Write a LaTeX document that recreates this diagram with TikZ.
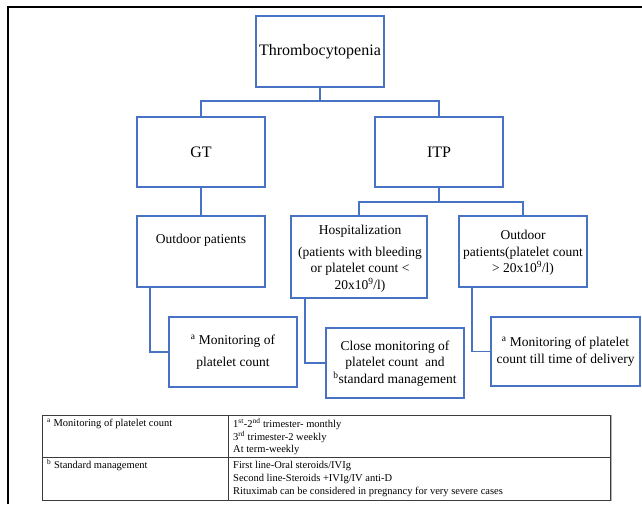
\documentclass[tikz,border=0pt]{standalone}
\usepackage{fontspec}
\setmainfont{Liberation Serif}
\definecolor{boxblue}{RGB}{72,114,196}
\definecolor{tabline}{RGB}{60,60,60}
\tikzset{
  box/.style={draw=boxblue, line width=1.3pt, rectangle, inner sep=0pt},
  conn/.style={draw=boxblue, line width=1.3pt},
  bigtxt/.style={font=\fontsize{16}{19}\selectfont, inner sep=0pt},
  midtxt/.style={font=\fontsize{13.5}{16.5}\selectfont, inner sep=0pt, align=center},
  smalltxt/.style={font=\fontsize{10.5}{13}\selectfont, inner sep=0pt, anchor=west},
  tabrule/.style={draw=tabline, line width=0.8pt}
}
\begin{document}
\begin{tikzpicture}[x=1pt,y=-1pt]
\useasboundingbox (0,0) rectangle (642,504);
% outer frame
\draw[line width=2pt] (8,504) -- (8,6.5) -- (642,6.5);

% boxes
\node[box, minimum width=128pt, minimum height=71pt] (top) at (320,51.5) {};
\node[box, minimum width=128pt, minimum height=70pt] (gt) at (201,152) {};
\node[box, minimum width=128pt, minimum height=70pt] (itp) at (439,152) {};
\node[box, minimum width=128pt, minimum height=71pt] (outgt) at (201,251.5) {};
\node[box, minimum width=136pt, minimum height=82pt] (hosp) at (359,257) {};
\node[box, minimum width=128pt, minimum height=71pt] (out2) at (523,251.5) {};
\node[box, minimum width=128pt, minimum height=70pt] (mon1) at (233,352) {};
\node[box, minimum width=138pt, minimum height=70pt] (close) at (395,363) {};
\node[box, minimum width=149pt, minimum height=69pt] (mon2) at (565.5,351.5) {};

% texts
\node[bigtxt] (ttop) at (320,52) {Thrombocytopenia};
\node[bigtxt] (tgt) at (201,152) {GT};
\node[bigtxt] (titp) at (439,152) {ITP};
\node[midtxt] (toutgt) at (201,240) {Outdoor patients};
\node[midtxt] (thosp1) at (360,231) {Hospitalization};
\node[midtxt] (thosp2) at (360,269.5) {(patients with bleeding\\or platelet count <\\20x10\textsuperscript{9}/l)};
\node[midtxt] (tout2) at (523,253) {Outdoor\\patients(platelet count\\> 20x10\textsuperscript{9}/l)};
\node[midtxt, font=\fontsize{13.5}{22}\selectfont] (tmon1) at (233,352) {\textsuperscript{a} Monitoring of\\platelet count};
\node[midtxt] (tclose) at (395,363.5) {Close monitoring of\\platelet count~ and\\\textsuperscript{b}standard management};
\node[midtxt, font=\fontsize{13.5}{17}\selectfont] (tmon2) at (565.5,351.5) {\textsuperscript{a} Monitoring of platelet\\count till time of delivery};

% connectors
\coordinate (j1) at (320,101);
\coordinate (j2) at (439,202);
\draw[conn] (top.south) -- (j1);
\draw[conn] (gt.north) |- (j1) -| (itp.north);
\draw[conn] (gt.south) -- (outgt.north);
\draw[conn] (itp.south) -- (j2);
\draw[conn] (hosp.north) |- (j2) -| (out2.north);
\draw[conn] ([xshift=-51pt]outgt.south) |- (mon1.west);
\draw[conn] ([xshift=-54pt]hosp.south) |- (close.west);
\draw[conn] ([xshift=-51pt]out2.south) |- (mon2.west);

% table
\draw[tabrule] (42,415) rectangle (610,500);
\draw[tabrule] (42,457) -- (610,457);
\draw[tabrule] (228,415) -- (228,500);
\draw[draw=gray!60, line width=1.5pt] (611.5,415) -- (611.5,500.5);
\node[smalltxt] (ta) at (47,424) {\textsuperscript{a} Monitoring of platelet count};
\node[smalltxt] (ta1) at (233,424) {1\textsuperscript{st}-2\textsuperscript{nd} trimester- monthly};
\node[smalltxt] (ta2) at (233,437) {3\textsuperscript{rd} trimester-2 weekly};
\node[smalltxt] (ta3) at (233,449.5) {At term-weekly};
\node[smalltxt] (tb) at (47,465.5) {\textsuperscript{b} Standard management};
\node[smalltxt] (tb1) at (233,465.5) {First line-Oral steroids/IVIg};
\node[smalltxt] (tb2) at (233,478.5) {Second line-Steroids +IVIg/IV anti-D};
\node[smalltxt] (tb3) at (233,491.5) {Rituximab can be considered in pregnancy for very severe cases};
\end{tikzpicture}
\end{document}
